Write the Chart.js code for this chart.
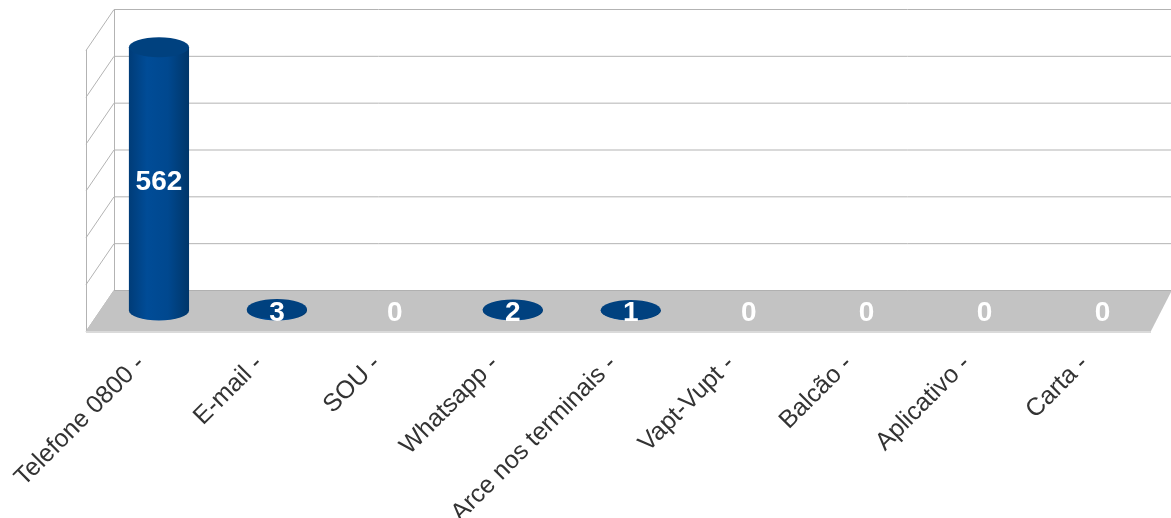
<!DOCTYPE html>
<html>
<head>
  <meta charset="utf-8">
  <title>Atendimentos por canal</title>
  <script src="https://cdn.jsdelivr.net/npm/chart.js"></script>
  <style>
    body { margin: 0; background: #fff; }
    .chart-container { position: relative; width: 1171px; height: 518px; }
  </style>
</head>
<body>
  <div class="chart-container">
    <canvas id="canalChart"></canvas>
  </div>

  <script>
    const categories = ['Telefone 0800 -', 'E-mail -', 'SOU -', 'Whatsapp -', 'Arce nos terminais -',
                        'Vapt-Vupt -', 'Balcão -', 'Aplicativo -', 'Carta -'];
    const counts = [562, 3, 0, 2, 1, 0, 0, 0, 0];
    const axisMax = 600;
    const axisStep = 100;

    // depth of the 3D box: the scale sits on the middle plane,
    // back wall is +1, front edge of the floor is -1
    const depthY = 20.5;
    const depthXLeft = 14;
    const depthXRight = 10.5;

    function shiftX(area, x, d) {
      const t = (x - area.left) / (area.right - area.left);
      return x + d * (depthXLeft + (depthXRight - depthXLeft) * t);
    }
    function shiftY(y, d) {
      return y - d * depthY;
    }

    const box3d = {
      id: 'box3d',
      beforeDatasetsDraw(chart) {
        const ctx = chart.ctx;
        const area = chart.chartArea;
        const yScale = chart.scales.y;
        const bl = shiftX(area, area.left, 1), br = shiftX(area, area.right, 1);
        const fl = shiftX(area, area.left, -1), fr = shiftX(area, area.right, -1);
        const top = yScale.getPixelForValue(axisMax);
        const zero = yScale.getPixelForValue(0);

        ctx.save();
        ctx.strokeStyle = '#b3b3b3';
        ctx.lineWidth = 1;

        // back wall and side wall grid
        yScale.ticks.forEach(t => {
          const y = yScale.getPixelForValue(t.value);
          ctx.beginPath();
          ctx.moveTo(br, shiftY(y, 1) + 0.5);
          ctx.lineTo(bl, shiftY(y, 1) + 0.5);
          ctx.lineTo(fl, shiftY(y, -1) + 0.5);
          ctx.stroke();
        });
        ctx.beginPath();
        ctx.moveTo(bl + 0.5, shiftY(top, 1));
        ctx.lineTo(bl + 0.5, shiftY(zero, 1));
        ctx.moveTo(fl + 0.5, shiftY(top, -1));
        ctx.lineTo(fl + 0.5, shiftY(zero, -1));
        ctx.stroke();

        // floor
        ctx.fillStyle = '#c3c3c3';
        ctx.beginPath();
        ctx.moveTo(bl, shiftY(zero, 1));
        ctx.lineTo(br, shiftY(zero, 1));
        ctx.lineTo(fr, shiftY(zero, -1));
        ctx.lineTo(fl, shiftY(zero, -1));
        ctx.closePath();
        ctx.fill();
        ctx.strokeStyle = '#b0b0b0';
        ctx.beginPath();
        ctx.moveTo(bl, shiftY(zero, 1) + 0.5);
        ctx.lineTo(br, shiftY(zero, 1) + 0.5);
        ctx.stroke();
        ctx.strokeStyle = '#dadada';
        ctx.lineWidth = 2;
        ctx.beginPath();
        ctx.moveTo(fl, shiftY(zero, -1) + 1);
        ctx.lineTo(fr, shiftY(zero, -1) + 1);
        ctx.stroke();
        ctx.restore();
      },
      afterDatasetsDraw(chart) {
        const ctx = chart.ctx;
        const meta = chart.getDatasetMeta(0);
        const values = chart.data.datasets[0].data;
        const ry = 10;

        ctx.save();
        meta.data.forEach((bar, i) => {
          const v = values[i];
          if (v <= 0) return;
          const rx = bar.width / 2;
          const x = bar.x, yTop = bar.y, yBase = bar.base;

          const grad = ctx.createLinearGradient(x - rx, 0, x + rx, 0);
          grad.addColorStop(0, '#003c78');
          grad.addColorStop(0.3, '#004c97');
          grad.addColorStop(0.65, '#00488f');
          grad.addColorStop(1, '#003669');
          ctx.fillStyle = grad;
          ctx.beginPath();
          ctx.moveTo(x - rx, yTop);
          ctx.lineTo(x - rx, yBase);
          ctx.ellipse(x, yBase, rx, ry, 0, Math.PI, 0, true);
          ctx.lineTo(x + rx, yTop);
          ctx.closePath();
          ctx.fill();

          ctx.fillStyle = '#00417f';
          ctx.beginPath();
          ctx.ellipse(x, yTop, rx, ry, 0, 0, Math.PI * 2);
          ctx.fill();
        });

        // value labels
        ctx.fillStyle = '#ffffff';
        ctx.font = 'bold 28px "Liberation Sans", Arial, sans-serif';
        ctx.textAlign = 'center';
        ctx.textBaseline = 'middle';
        meta.data.forEach((bar, i) => {
          const yMid = (bar.y + bar.base) / 2;
          ctx.fillText(String(values[i]), bar.x, yMid + 3);
        });
        ctx.restore();
      }
    };

    new Chart(document.getElementById('canalChart'), {
      type: 'bar',
      data: {
        labels: categories,
        datasets: [{
          data: counts,
          backgroundColor: 'rgba(0,0,0,0)',
          borderWidth: 0,
          categoryPercentage: 1,
          barPercentage: 0.51
        }]
      },
      options: {
        responsive: true,
        maintainAspectRatio: false,
        animation: false,
        layout: { padding: { left: 100, right: 9.5, top: 29.5, bottom: 0 } },
        plugins: {
          legend: { display: false },
          tooltip: { enabled: false }
        },
        scales: {
          x: {
            grid: { display: false, drawTicks: false },
            border: { display: false },
            ticks: {
              autoSkip: false,
              minRotation: 45,
              maxRotation: 45,
              padding: 39,
              labelOffset: -18,
              color: '#333333',
              font: { family: '"Liberation Sans", Arial, sans-serif', size: 25 }
            },
            afterFit(scale) {
              scale.height = 207.5;
              scale.paddingLeft = 0;
              scale.paddingRight = 0;
            }
          },
          y: {
            display: false,
            min: 0,
            max: axisMax,
            ticks: { stepSize: axisStep }
          }
        }
      },
      plugins: [box3d]
    });
  </script>
</body>
</html>
